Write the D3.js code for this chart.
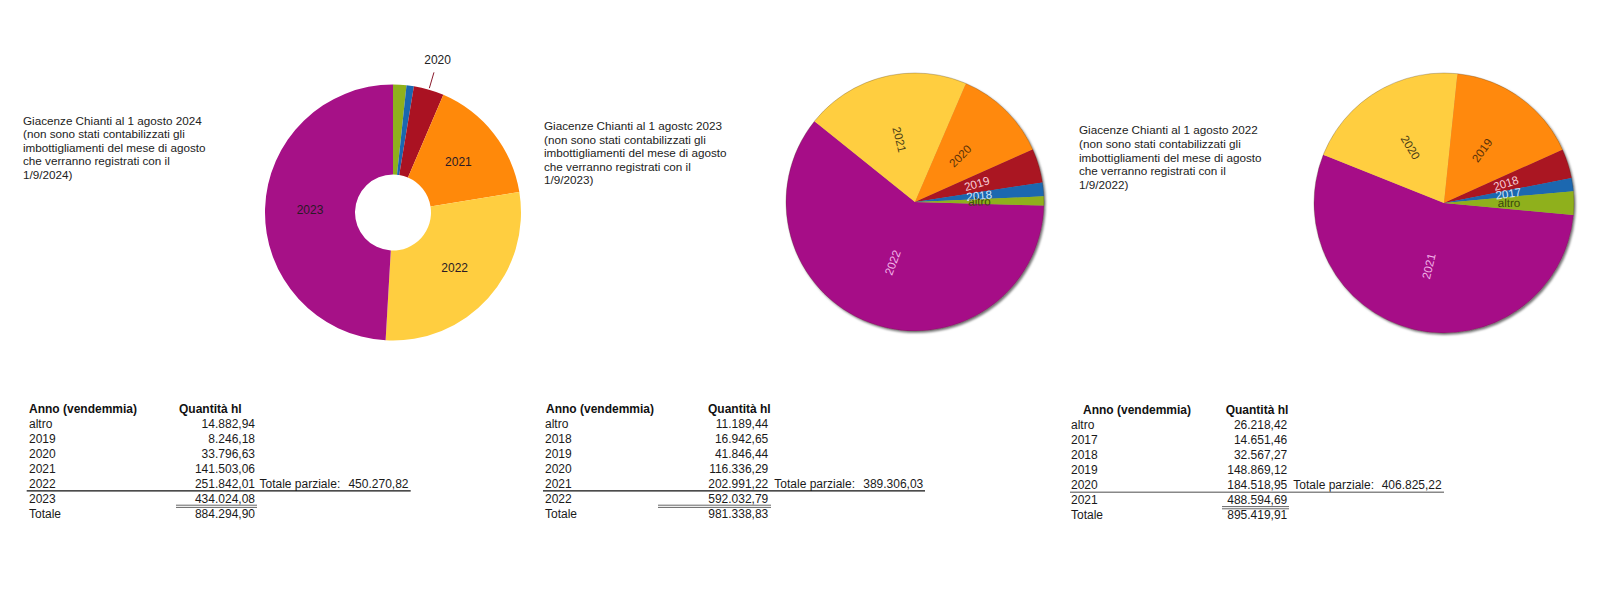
<html>
<head>
<meta charset="utf-8">
<title>Giacenze Chianti</title>
<style>
  body { margin: 0; background: #fff; }
  text { font-family: "Liberation Sans", Arial, sans-serif; }
</style>
</head>
<body>
<script src="https://cdn.jsdelivr.net/npm/d3@7"></script>
<script>
// ---- data ----
var years2024 = ["altro", "2019", "2020", "2021", "2022", "2023"];
var qty2024 = [14882.94, 8246.18, 33796.63, 141503.06, 251842.01, 434024.08];
var partial2024 = 450270.82, total2024 = 884294.90;
var title2024 = ["Giacenze Chianti al 1 agosto 2024", "(non sono stati contabilizzati gli",
  "imbottigliamenti del mese di agosto", "che verranno registrati con il", "1/9/2024)"];

var years2023 = ["altro", "2018", "2019", "2020", "2021", "2022"];
var qty2023 = [11189.44, 16942.65, 41846.44, 116336.29, 202991.22, 592032.79];
var partial2023 = 389306.03, total2023 = 981338.83;
var title2023 = ["Giacenze Chianti al 1 agostc 2023", "(non sono stati contabilizzati gli",
  "imbottigliamenti del mese di agosto", "che verranno registrati con il", "1/9/2023)"];

var years2022 = ["altro", "2017", "2018", "2019", "2020", "2021"];
var qty2022 = [26218.42, 14651.46, 32567.27, 148869.12, 184518.95, 488594.69];
var partial2022 = 406825.22, total2022 = 895419.91;
var title2022 = ["Giacenze Chianti al 1 agosto 2022", "(non sono stati contabilizzati gli",
  "imbottigliamenti del mese di agosto", "che verranno registrati con il", "1/9/2022)"];

var headers = ["Anno (vendemmia)", "Quantità hl"];

// ---- styles ----
var palette = ["#8fb01c", "#1a67b0", "#aa1222", "#ff890a", "#ffce40", "#a61187"];
var labelPalette = ["#3a470c", "#cfe5fa", "#f7ccd6", "#5a3108", "#4a3d16", "#f3b6ea"];
var color = d3.scaleOrdinal().domain(d3.range(6)).range(palette);
var labelColor = d3.scaleOrdinal().domain(d3.range(6)).range(labelPalette);

var fmt = d3.formatLocale({decimal: ",", thousands: ".", grouping: [3], currency: ["", ""]}).format(",.2f");

var svg = d3.select("body").append("svg")
    .attr("width", 1600).attr("height", 608);

var defs = svg.append("defs");
defs.append("filter").attr("id", "shadow")
    .attr("x", "-10%").attr("y", "-10%").attr("width", "130%").attr("height", "130%")
  .append("feDropShadow")
    .attr("dx", 1.6).attr("dy", 1.8).attr("stdDeviation", 1.3)
    .attr("flood-color", "#000").attr("flood-opacity", 0.55);

function makeData(years, qty) {
  return years.map(function(y, i) { return {year: y, value: qty[i], idx: i}; });
}

// ---- titles ----
function drawTitle(lines, x, y) {
  var t = svg.append("text").attr("x", x).attr("y", y)
      .attr("font-size", 11.7).attr("fill", "#222");
  t.selectAll("tspan").data(lines).enter().append("tspan")
      .attr("x", x).attr("dy", function(d, i) { return i == 0 ? 0 : 13.6; })
      .text(function(d) { return d; });
}
drawTitle(title2024, 23, 124.5);
drawTitle(title2023, 544, 130);
drawTitle(title2022, 1079, 134.3);

// ---- donut (2024) ----
function drawDonut(data, cx, cy, r, inner) {
  var g = svg.append("g").attr("transform", "translate(" + cx + "," + cy + ")");
  var pie = d3.pie().sort(null).value(function(d) { return d.value; });
  var arc = d3.arc().innerRadius(inner).outerRadius(r);
  var arcs = pie(data);
  g.selectAll("path").data(arcs).enter().append("path")
      .attr("d", arc)
      .attr("fill", function(d) { return color(d.data.idx); });

  var big = arcs.filter(function(d) { return d.endAngle - d.startAngle > 0.5; });
  g.selectAll("text.in").data(big).enter().append("text")
      .attr("class", "in")
      .attr("x", function(d) { return arc.centroid(d)[0]; })
      .attr("y", function(d) { return arc.centroid(d)[1]; })
      .attr("dy", "0.35em").attr("text-anchor", "middle")
      .attr("font-size", 12).attr("fill", "#2a1a26")
      .text(function(d) { return d.data.year; });

  var mid = arcs.filter(function(d) { var a = d.endAngle - d.startAngle; return a > 0.2 && a <= 0.5; });
  function pt(d, rr) {
    var a = (d.startAngle + d.endAngle) / 2;
    return [Math.sin(a) * rr, -Math.cos(a) * rr];
  }
  g.selectAll("line.lead").data(mid).enter().append("line")
      .attr("x1", function(d) { return pt(d, r + 1.5)[0]; })
      .attr("y1", function(d) { return pt(d, r + 1.5)[1]; })
      .attr("x2", function(d) { return pt(d, r + 18)[0]; })
      .attr("y2", function(d) { return pt(d, r + 18)[1]; })
      .attr("stroke", "#8a1a2c").attr("stroke-width", 1);
  g.selectAll("text.out").data(mid).enter().append("text")
      .attr("class", "out")
      .attr("x", function(d) { return pt(d, r + 31)[0]; })
      .attr("y", function(d) { return pt(d, r + 31)[1]; })
      .attr("dy", "0.35em").attr("text-anchor", "middle")
      .attr("font-size", 12).attr("fill", "#222")
      .text(function(d) { return d.data.year; });
}
drawDonut(makeData(years2024, qty2024), 393, 212.5, 128, 38);

// ---- pies (2023, 2022) ----
function drawPie(data, cx, cy, r, startDeg) {
  var g = svg.append("g").attr("transform", "translate(" + cx + "," + cy + ")");
  var a0 = startDeg * Math.PI / 180;
  var pie = d3.pie().sort(null).value(function(d) { return d.value; })
      .startAngle(a0).endAngle(a0 + 2 * Math.PI);
  var arc = d3.arc().innerRadius(0).outerRadius(r);
  var arcs = pie(data.slice().reverse());
  var sg = g.append("g").attr("filter", "url(#shadow)");
  sg.selectAll("path").data(arcs).enter().append("path")
      .attr("d", arc)
      .attr("fill", function(d) { return color(d.data.idx); });
  g.append("circle").attr("r", r).attr("fill", "none")
      .attr("stroke", "rgba(70,50,30,0.35)").attr("stroke-width", 0.8);

  g.selectAll("text").data(arcs).enter().append("text")
      .attr("transform", function(d) {
        var c = arc.centroid(d);
        var a = ((d.startAngle + d.endAngle) / 2) * 180 / Math.PI % 360;
        var rot = a - 90;
        if (a > 180) rot += 180;
        return "translate(" + c[0] + "," + c[1] + ") rotate(" + rot + ")";
      })
      .attr("dy", "0.35em").attr("text-anchor", "middle")
      .attr("font-size", 11.6)
      .attr("fill", function(d) { return labelColor(d.data.idx); })
      .text(function(d) { return d.data.year; });
}
drawPie(makeData(years2023, qty2023), 915, 202, 129, 91.6);
drawPie(makeData(years2022, qty2022), 1444, 203, 130, 95.3);

// ---- tables ----
function drawTable(years, qty, partial, total, L) {
  var g = svg.append("g");
  var rowY = function(i) { return L.y0 + 15 * (i + 1); };
  g.append("text").attr("x", L.headX).attr("y", L.y0)
      .attr("font-size", 12).attr("font-weight", "bold").attr("fill", "#111").text(headers[0]);
  g.append("text").attr("x", L.qtyHeadX).attr("y", L.y0)
      .attr("font-size", 12).attr("font-weight", "bold").attr("fill", "#111").text(headers[1]);

  var labels = years.concat(["Totale"]);
  var vals = qty.concat([total]);
  g.selectAll("text.lab").data(labels).enter().append("text")
      .attr("class", "lab")
      .attr("x", L.labelX).attr("y", function(d, i) { return rowY(i); })
      .attr("font-size", 12).attr("fill", "#1a1a1a").text(function(d) { return d; });
  g.selectAll("text.val").data(vals).enter().append("text")
      .attr("class", "val")
      .attr("x", L.valueX).attr("y", function(d, i) { return rowY(i); })
      .attr("text-anchor", "end")
      .attr("font-size", 12).attr("fill", "#1a1a1a").text(function(d) { return fmt(d); });

  var pRow = qty.length - 2;
  g.append("text").attr("x", L.partX).attr("y", rowY(pRow))
      .attr("font-size", 12).attr("fill", "#1a1a1a").text("Totale parziale:");
  g.append("text").attr("x", L.partValX).attr("y", rowY(pRow))
      .attr("text-anchor", "end")
      .attr("font-size", 12).attr("fill", "#1a1a1a").text(fmt(partial));

  g.append("line")
      .attr("x1", L.lineX0).attr("x2", L.lineX1)
      .attr("y1", rowY(pRow) + 3.2).attr("y2", rowY(pRow) + 3.2)
      .attr("stroke", L.lineColor).attr("stroke-width", L.lineW);
  [2.6, 4.8].forEach(function(off) {
    g.append("line")
        .attr("x1", L.dblX0).attr("x2", L.dblX1)
        .attr("y1", rowY(pRow + 1) + off).attr("y2", rowY(pRow + 1) + off)
        .attr("stroke", "#555").attr("stroke-width", 0.9);
  });
}

drawTable(years2024, qty2024, partial2024, total2024, {
  headX: 29, qtyHeadX: 179, labelX: 29, valueX: 255, partX: 259.5, partValX: 408.5,
  lineX0: 26.7, lineX1: 410.7, dblX0: 176, dblX1: 257, y0: 412.6, lineColor: "#111", lineW: 1.2
});
drawTable(years2023, qty2023, partial2023, total2023, {
  headX: 546, qtyHeadX: 708, labelX: 545, valueX: 768.3, partX: 774.3, partValX: 923.3,
  lineX0: 543, lineX1: 925, dblX0: 658, dblX1: 771, y0: 412.6, lineColor: "#111", lineW: 1.2
});
drawTable(years2022, qty2022, partial2022, total2022, {
  headX: 1083, qtyHeadX: 1225.7, labelX: 1071, valueX: 1287.3, partX: 1293.3, partValX: 1441.7,
  lineX0: 1070, lineX1: 1444, dblX0: 1222, dblX1: 1289, y0: 414, lineColor: "#888", lineW: 1.6
});
</script>
</body>
</html>
